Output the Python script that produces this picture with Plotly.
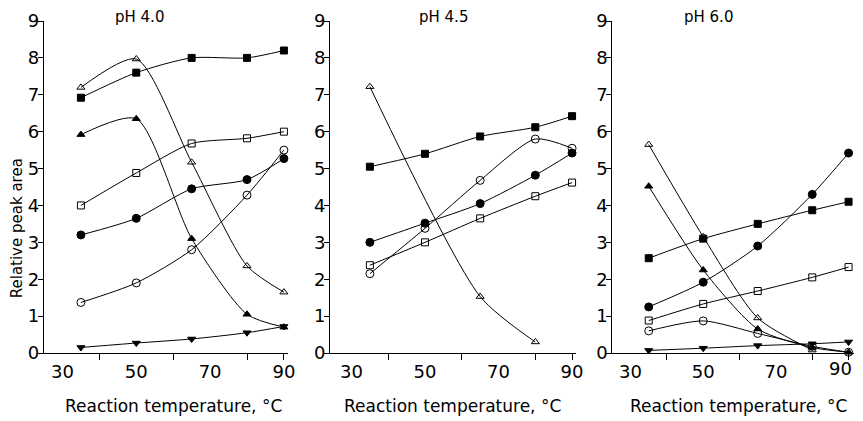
import plotly.graph_objects as go

temps = [35, 50, 65, 80, 90]

# pH 4.0
p1_filled_sq = [6.92, 7.6, 8.0, 8.0, 8.2]
p1_open_tri = [7.2, 7.97, 5.17, 2.36, 1.65]
p1_filled_tri = [5.92, 6.35, 3.1, 1.05, 0.7]
p1_open_sq = [4.0, 4.88, 5.68, 5.82, 6.0]
p1_filled_circ = [3.2, 3.65, 4.45, 4.7, 5.27]
p1_open_circ = [1.37, 1.9, 2.8, 4.28, 5.5]
p1_filled_dtri = [0.15, 0.27, 0.38, 0.55, 0.72]

# pH 4.5
p2_filled_sq = [5.05, 5.4, 5.87, 6.12, 6.42]
p2_open_tri = [7.22, None, 1.53, 0.3, None]
p2_open_circ = [2.15, 3.38, 4.68, 5.8, 5.55]
p2_filled_circ = [3.0, 3.52, 4.05, 4.82, 5.42]
p2_open_sq = [2.38, 3.0, 3.65, 4.25, 4.62]

# pH 6.0
p3_open_tri = [5.65, 3.15, 0.95, 0.08, None]
p3_filled_tri = [4.52, 2.25, 0.65, 0.15, 0.02]
p3_filled_sq = [2.57, 3.1, 3.5, 3.87, 4.1]
p3_filled_circ = [1.25, 1.92, 2.9, 4.3, 5.42]
p3_open_sq = [0.88, 1.33, 1.68, 2.05, 2.33]
p3_open_circ = [0.6, 0.87, 0.53, 0.18, 0.02]
p3_filled_dtri = [0.07, 0.13, 0.2, 0.25, 0.3]

x_tick_vals = [30, 50, 70, 90]
x_tick_text = ["30", "50", "70", "90"]
y_tick_vals = [0, 1, 2, 3, 4, 5, 6, 7, 8, 9]
panel_titles = ["pH 4.0", "pH 4.5", "pH 6.0"]
x_title = "Reaction temperature, °C"
y_title = "Relative peak area"

FONT = "DejaVu Sans"
fig = go.Figure()

def add(series, symbol, ax, size=7):
    xs = [t for t, v in zip(temps, series) if v is not None]
    ys = [v for v in series if v is not None]
    fig.add_trace(go.Scatter(
        x=xs, y=ys, mode="lines+markers",
        line=dict(color="black", width=1, shape="spline", smoothing=0.7),
        marker=dict(symbol=symbol, size=size, color="black",
                    line=dict(color="black", width=1)),
        xaxis="x" + ax, yaxis="y" + ax, cliponaxis=False, showlegend=False))

add(p1_filled_sq, "square", "")
add(p1_open_tri, "triangle-up-open", "")
add(p1_filled_tri, "triangle-up", "")
add(p1_open_sq, "square-open", "")
add(p1_filled_circ, "circle", "", 8)
add(p1_open_circ, "circle-open", "", 8)
add(p1_filled_dtri, "triangle-down", "")

add(p2_filled_sq, "square", "2")
add(p2_open_tri, "triangle-up-open", "2")
add(p2_open_circ, "circle-open", "2", 8)
add(p2_filled_circ, "circle", "2", 8)
add(p2_open_sq, "square-open", "2")

add(p3_open_tri, "triangle-up-open", "3")
add(p3_filled_tri, "triangle-up", "3")
add(p3_filled_sq, "square", "3")
add(p3_filled_circ, "circle", "3", 8)
add(p3_open_sq, "square-open", "3")
add(p3_open_circ, "circle-open", "3", 8)
add(p3_filled_dtri, "triangle-down", "3")

# page body has an 8px margin: work in screen coordinates, then offset
OFF = 8
W, H = 863 - OFF, 421 - OFF
L, R, T, B = 44 - OFF, 0, 21 - OFF, 421 - 353
pw = W - L - R
ph = H - T - B

def dom(a, b):
    return [(a - 44) / pw, (b - 44) / pw]

def px_x(sx):
    return (sx - 44) / pw

def px_y(sy):
    return (353 - sy) / ph

xdoms = [dom(44, 290), dom(333, 581), dom(618, 862)]
xranges = [[25, 91], [24.2, 91], [25, 91.5]]
TICKFONT = dict(family=FONT, size=18, color="black")

def xaxis(i, vals, texts):
    return dict(domain=xdoms[i], range=xranges[i], showline=True, linecolor="black",
                linewidth=1.3, ticks="", tickvals=vals, ticktext=texts,
                tickfont=TICKFONT,
                minor=dict(tickvals=[40, 60, 80, 90], ticks="outside", ticklen=6,
                           tickcolor="black", tickwidth=1.3),
                showgrid=False, zeroline=False, anchor="y" + ("" if i == 0 else str(i + 1)),
                ticklabelstandoff=2)

def yaxis(i):
    return dict(domain=[0, 1], range=[0, 9], showline=True, linecolor="black",
                linewidth=1.3, ticks="outside", ticklen=5, tickcolor="black", tickwidth=1.3,
                tickvals=y_tick_vals, tickfont=TICKFONT,
                showgrid=False, zeroline=False,
                anchor="x" + ("" if i == 0 else str(i + 1)), ticklabelstandoff=-5)

fig.update_layout(
    width=W, height=H, margin=dict(l=L, r=R, t=T, b=B),
    paper_bgcolor="white", plot_bgcolor="white",
    xaxis=xaxis(0, x_tick_vals, x_tick_text),
    xaxis2=xaxis(1, x_tick_vals, x_tick_text),
    xaxis3=xaxis(2, x_tick_vals[:-1], x_tick_text[:-1]),
    yaxis=yaxis(0), yaxis2=yaxis(1), yaxis3=yaxis(2),
)

ann = []
# last tick label of the third panel, nudged left so it stays inside the page
ann.append(dict(text=x_tick_text[-1], x=x_tick_vals[-1], xref="x3", y=0, yref="y3",
                xanchor="right", yanchor="top", xshift=5, yshift=-3, showarrow=False,
                font=TICKFONT))
title_x = [140, 447, 715]
for i in range(3):
    ann.append(dict(text=panel_titles[i], x=px_x(title_x[i]), y=px_y(17),
                    xref="paper", yref="paper", showarrow=False, xanchor="center", yanchor="middle",
                    font=dict(family=FONT, size=15, color="black")))
xt_x = [175, 457, 745]
for i in range(3):
    ann.append(dict(text=x_title, x=px_x(xt_x[i]), y=px_y(406),
                    xref="paper", yref="paper", showarrow=False, xanchor="center", yanchor="middle",
                    font=dict(family=FONT, size=17, color="black")))
ann.append(dict(text=y_title, x=px_x(17), y=px_y(228),
                xref="paper", yref="paper", showarrow=False, textangle=-90,
                xanchor="center", yanchor="middle",
                font=dict(family=FONT, size=15, color="black")))
fig.update_layout(annotations=ann)

fig.write_html("out.html")
